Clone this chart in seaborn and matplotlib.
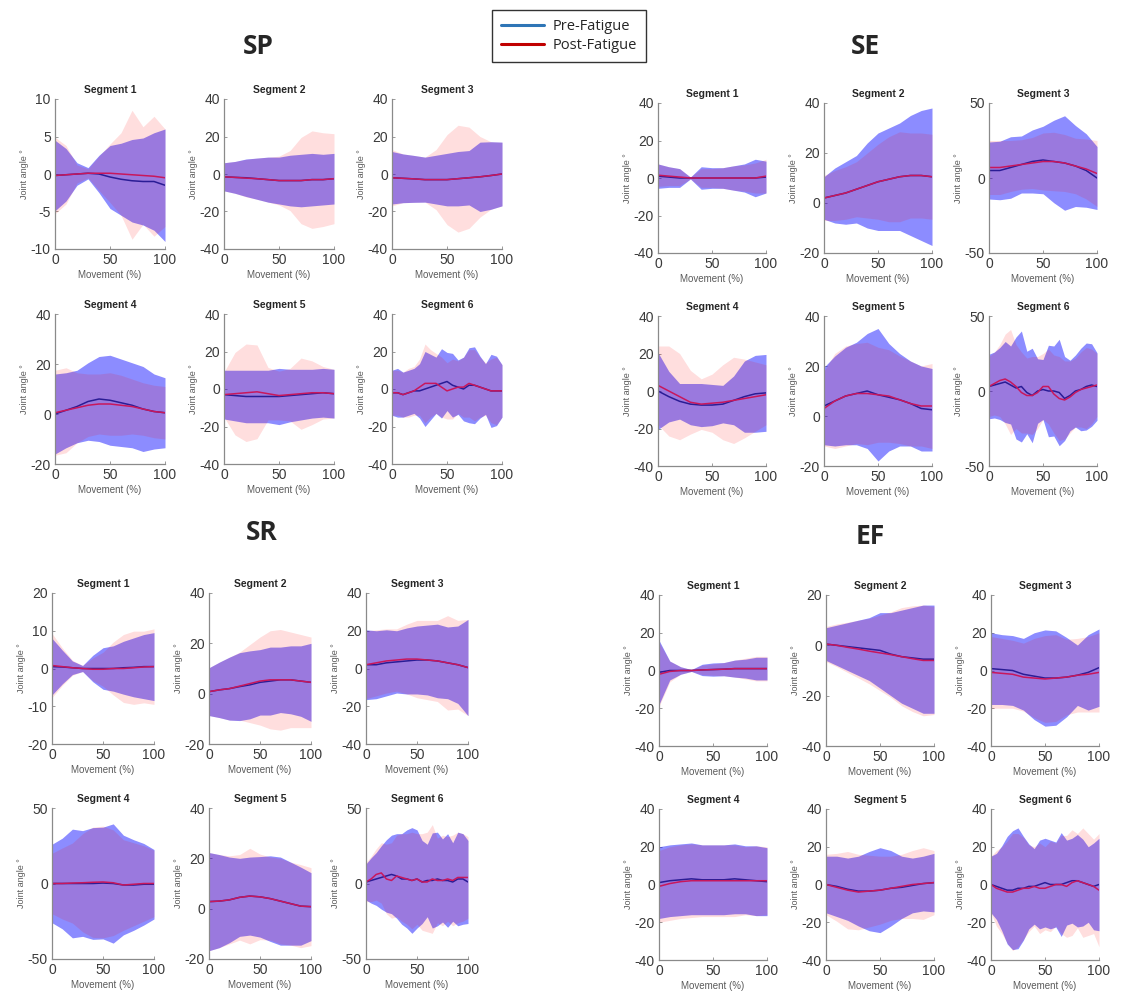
"""Joint angle mean +/- SD curves, pre vs post fatigue, four movements x six segments."""

import matplotlib

matplotlib.use("Agg")

import matplotlib.pyplot as plt
import numpy as np
import pandas as pd
import seaborn as sns
from matplotlib.lines import Line2D

# ---------------------------------------------------------------------------
# Data: mean and SD sampled evenly over 0-100 % of the movement
# ---------------------------------------------------------------------------
# SP
sp1_pre_mean = [-0.2, -0.1, 0, 0.1, 0, -0.4, -0.7, -0.9, -1.0, -1.0, -1.5]
sp1_pre_sd = [4.7, 3.5, 1.5, 0.75, 2.5, 4.2, 4.8, 5.5, 5.8, 6.5, 7.5]
sp1_post_mean = [-0.2, -0.1, 0, 0.1, 0.1, 0.1, 0, -0.1, -0.2, -0.3, -0.5]
sp1_post_sd = [5.1, 3.9, 1.2, 0.6, 2.3, 3.9, 5.5, 8.6, 6.5, 8.0, 6.5]

sp2_pre_mean = [-1.5, -1.8, -2, -2.5, -3, -3.5, -3.5, -3.5, -3, -3, -2.5]
sp2_pre_sd = [7.5, 8.5, 10, 11, 12, 12.5, 13.5, 14, 14, 13.5, 13.5]
sp2_post_mean = [-1.5, -1.8, -2.2, -2.5, -3, -3.5, -3.5, -3.5, -3, -3, -2.5]
sp2_post_sd = [7.5, 8.5, 10, 11, 12, 13, 16, 23, 26, 25, 24]

sp3_pre_mean = [-2, -2.3, -2.6, -3, -3, -3, -2.5, -2, -1.5, -0.8, 0]
sp3_pre_sd = [14, 13, 12.5, 12, 13, 14, 14.5, 14.5, 18.5, 18, 17]
sp3_post_mean = [-2, -2.3, -2.6, -3, -3, -3, -2.5, -2, -1.5, -0.8, 0]
sp3_post_sd = [15, 13, 12.5, 12, 16, 24, 28.5, 27, 21.5, 18, 17]

sp4_pre_mean = [0, 1.5, 3, 5, 6, 5.5, 4.5, 3.5, 2, 1, 0.5]
sp4_pre_sd = [16, 15, 14.5, 15.5, 17, 18, 17.5, 17, 17, 15, 14]
sp4_post_mean = [0.5, 1.5, 2.5, 3.5, 4, 4, 3.5, 3, 2, 1, 0.5]
sp4_post_sd = [17, 17, 14, 12.5, 12, 12.5, 12, 11, 10.5, 10.5, 10.5]

sp5_pre_mean = [-3, -3.5, -4, -4, -4, -4, -3.5, -3, -2.5, -2, -2.5]
sp5_pre_sd = [13, 13.5, 14, 14, 14, 15, 14, 13.5, 13, 13, 13]
sp5_post_mean = [-3, -2.5, -2, -1.5, -2.5, -3.5, -3, -2.5, -2, -2, -2.5]
sp5_post_sd = [12, 22, 26, 25, 14, 13, 14, 19, 17, 14, 13]

sp6_pre_mean = [-2, -2, -3, -2, -1, -1, 0, 1, 2, 3, 4, 2, 1, 0, 2, 2, 1, 0, -1, -1, -1]
sp6_pre_sd = [12, 13, 12, 12, 12, 14.5, 20, 17.5, 15, 18.5, 15.5, 17, 14.5, 17, 20, 20.5,
              16.5, 13.5, 19.5, 18.5, 14]
sp6_post_mean = [-2, -2, -3, -2, -1, 1, 3, 3, 3, 1, -1, 0, 1, 1, 3, 2, 1, 0, -1, -1, -1]
sp6_post_sd = [12, 12, 12, 13, 13, 15, 21, 18, 16, 16, 15, 16, 14, 16, 18, 19, 16, 14, 17,
               18, 14]

# SE
se1_pre_mean = [1, 0.5, 0, 0, 0, 0, 0, 0, 0, 0, 0.5]
se1_pre_sd = [6.5, 5.5, 5, 0.5, 6, 5.5, 5.5, 6.5, 7.5, 10, 8.5]
se1_post_mean = [1.5, 1, 0.5, 0, 0, 0, 0, 0, 0, 0, 1]
se1_post_sd = [6, 5, 4.5, 0.5, 5, 5, 5.5, 6.5, 7, 8, 9]

se2_pre_mean = [2, 3, 4, 5.5, 7, 8.5, 9.5, 10.5, 11, 11, 10.5]
se2_pre_sd = [8.5, 11, 12.5, 13.5, 17, 19.5, 20.5, 21.5, 24, 26, 27.5]
se2_post_mean = [2, 3, 4, 5.5, 7, 8.5, 9.5, 10.5, 11, 11, 10.5]
se2_post_sd = [9, 10, 10.5, 11, 13, 15, 17, 18, 17, 17, 17]

se3_pre_mean = [5, 5, 7, 9, 11, 12, 11, 10, 8, 5, 0]
se3_pre_sd = [19, 19.5, 20.5, 19, 21, 22.5, 27.5, 31.5, 27, 24.5, 21]
se3_post_mean = [7, 7, 8, 9, 10, 11, 11, 10, 8, 6, 3]
se3_post_sd = [18, 18, 17, 16.5, 17, 19, 19.5, 19, 18.5, 20, 22]

se4_pre_mean = [0, -3, -5.5, -7, -7.5, -7.5, -7, -5, -3, -1.5, -1]
se4_pre_sd = [20.5, 13.5, 9.5, 11, 11.5, 11, 10, 13, 19, 20.5, 20.5]
se4_post_mean = [3, 0, -3, -6, -7, -6.5, -6, -5, -4, -3, -2]
se4_post_sd = [21, 24, 23, 17, 13.5, 15.5, 20, 23, 21, 18.5, 16]

se5_pre_mean = [4, 6, 8, 9, 10, 8.5, 7.5, 6.5, 5, 3, 2.5]
se5_pre_sd = [15.5, 18, 19.5, 20.5, 23, 26.5, 21.5, 18.5, 17, 17, 16.5]
se5_post_mean = [3, 6, 8, 9, 9, 8.5, 8, 6.5, 5, 4, 4]
se5_post_sd = [15, 19, 20, 20, 20.5, 19, 18.5, 17.5, 17, 16, 17]

se6_pre_mean = [3, 4, 5, 6, 4, 2, 3, -1, -3, 0, 1, 0, 0, -1, -5, -3, 0, 1, 3, 4, 3]
se6_pre_sd = [21.5, 22, 24, 27, 26, 34, 37, 27.5, 31.5, 21.5, 20, 30.5, 30, 35.5, 28,
              23.5, 24, 27.5, 29, 27.5, 22.5]
se6_post_mean = [3, 5, 7, 8, 6, 3, -1, -3, -3, -1, 3, 3, -2, -5, -6, -4, -1, 1, 2, 3, 4]
se6_post_sd = [20, 21, 24, 30, 35, 28, 27, 25, 26, 24, 22, 25, 26, 28, 26, 24, 23, 25, 27,
               25, 21]

# SR
sr1_pre_mean = [0.5, 0.4, 0.2, 0, 0, 0, 0, 0.2, 0.3, 0.5, 0.5]
sr1_pre_sd = [7.5, 4.5, 1.8, 0.8, 3.5, 5.5, 6, 7, 7.8, 8.5, 9]
sr1_post_mean = [0.8, 0.5, 0.2, 0, -0.2, -0.2, 0, 0, 0.2, 0.4, 0.5]
sr1_post_sd = [8.5, 5, 2, 0.8, 3, 4.5, 7, 9, 9.7, 9.5, 10]

sr2_pre_mean = [0.8, 1.5, 2, 2.8, 3.5, 4.5, 5, 5.5, 5.5, 5, 4.5]
sr2_pre_sd = [9.5, 11, 12.5, 13.5, 13.5, 13, 13.5, 13, 13.5, 14, 15.5]
sr2_post_mean = [0.8, 1.5, 2, 3, 4, 5, 5.5, 5.5, 5.5, 5, 4.5]
sr2_post_sd = [9.5, 11, 12.5, 13.5, 15.5, 17.5, 19.5, 20, 19, 18.5, 18]

sr3_pre_mean = [2, 2, 3, 3.5, 4, 4.5, 4.5, 4, 3, 2, 0.5]
sr3_pre_sd = [18.5, 18, 17.5, 16.5, 17.5, 18, 18.5, 19.5, 19, 20.5, 25.5]
sr3_post_mean = [2, 3, 4, 4.5, 5, 5, 4.5, 4, 3, 2, 0.5]
sr3_post_sd = [18, 17.5, 17, 16.5, 18.5, 20.5, 21, 21.5, 25, 23.5, 25.5]

sr4_pre_mean = [0, 0, 0, 0, 0, 0.3, 0, -1, -1, -0.5, -0.5]
sr4_pre_sd = [26, 30, 36, 35, 37, 37, 39.5, 33, 30, 27, 23]
sr4_post_mean = [0, 0, 0.3, 0.5, 0.8, 1, 0.5, -1, -0.5, 0, 0]
sr4_post_sd = [20, 23.5, 26.5, 32.5, 36.5, 37, 35, 30, 27.5, 25, 22]

sr5_pre_mean = [2.8, 3, 3.5, 4.5, 5, 4.7, 4, 3, 2, 1, 0.8]
sr5_pre_sd = [19.5, 18.5, 17, 15.5, 15.5, 16, 17, 17.5, 16.5, 15.5, 13.5]
sr5_post_mean = [2.8, 3, 3.5, 4.5, 5, 4.7, 4, 3, 2, 1, 0.8]
sr5_post_sd = [19.5, 18.5, 17.5, 17, 19, 17, 16.5, 17, 16.5, 16.5, 15.5]

sr6_pre_mean = [1, 2, 3, 4, 5, 6, 5, 3, 3, 2, 3, 1, 2, 2, 3, 2, 2, 1, 3, 3, 1]
sr6_pre_sd = [12, 15, 17.5, 21, 24, 26, 28, 30, 32.5, 35, 32.5, 27.5, 24, 31.5, 31, 27.5,
              31, 26, 31, 30, 27.5]
sr6_post_mean = [1, 3, 6, 7, 3, 2, 5, 4, 3, 2, 3, 1, 1, 3, 2, 2, 3, 2, 4, 4, 4]
sr6_post_sd = [13, 15, 17, 20, 23, 25, 27, 29, 30, 32, 30, 32, 33, 36, 28, 30, 28, 30, 30,
               29, 27]

# EF
ef1_pre_mean = [-1, 0, 0, 0, 0.3, 0.5, 0.7, 1, 1, 1, 1]
ef1_pre_sd = [17, 5, 2, 0.5, 3, 3.5, 3.5, 4.5, 5, 6, 6]
ef1_post_mean = [-2, -0.5, 0, 0, 0.3, 0.5, 0.7, 1, 1, 1, 1]
ef1_post_sd = [17, 5.5, 2, 0.5, 2.5, 3, 3.5, 4.5, 5.5, 6.5, 6.5]

ef2_pre_mean = [0.5, 0, -0.5, -1, -1.5, -2, -3.5, -4.5, -5, -5.5, -5.5]
ef2_pre_sd = [6.5, 8, 9.5, 11, 12.5, 15, 16.5, 18.5, 20, 21.5, 21.5]
ef2_post_mean = [0.5, 0, -0.8, -1.5, -2.3, -3, -3.7, -4.5, -5.3, -6, -6]
ef2_post_sd = [7, 8.5, 10, 11.5, 13, 15, 17, 19.5, 21, 22, 21.5]

ef3_pre_mean = [1, 0.5, 0, -2, -3, -4, -4, -3.5, -2.5, -1, 1.5]
ef3_pre_sd = [19, 18.5, 18.5, 19, 23, 25.5, 25, 21, 16, 20, 20.5]
ef3_post_mean = [-1, -1.5, -2, -3.5, -4, -4.5, -4, -3.5, -2.5, -2, -1]
ef3_post_sd = [19, 18.5, 18, 18, 21, 23, 23, 20, 19.5, 20, 21]

ef4_pre_mean = [1, 2, 2.5, 3, 2.5, 2.5, 2.5, 3, 2.5, 2, 1.5]
ef4_pre_sd = [19, 19, 19, 19, 18.5, 18.5, 18.5, 18.5, 18, 18.5, 18]
ef4_post_mean = [-1, 0.5, 1.5, 2, 2, 2, 2, 2, 2, 2, 2]
ef4_post_sd = [19, 19.5, 19.5, 19.5, 19, 19, 19, 19, 18, 18.5, 18]

ef5_pre_mean = [0, -1, -2.5, -3.5, -3.5, -3, -2, -1.5, -0.5, 0.5, 1]
ef5_pre_sd = [15, 16, 16.5, 18.5, 21, 22.5, 20, 16.5, 14.5, 14.5, 15.5]
ef5_post_mean = [0, -1.5, -3, -4, -3.5, -3, -2, -1, 0, 0.5, 1]
ef5_post_sd = [16, 18, 20.5, 20, 19, 18, 17, 17, 18, 19, 17]

ef6_pre_mean = [0, -1, -2, -3, -3, -2, -2, -1, -1, 0, 1, 0, 0, 0, 1, 2, 2, 1, 0, -1, 0]
ef6_pre_sd = [15, 17.5, 22.5, 28.5, 31.5, 32, 27.5, 22.5, 20, 23.5, 23.5, 23.5, 22.5,
              27.5, 22.5, 22.5, 24.5, 23, 20, 23, 24.5]
ef6_post_mean = [0, -2, -3, -4, -4, -3, -2, -2, -1, -2, -2, -1, 0, 0, -1, 1, 2, 1, 0, -1, -3]
ef6_post_sd = [15, 20, 23, 27, 31, 30, 27, 23, 21, 24, 22, 24, 22, 26, 27, 28, 25, 29, 27,
               25, 30]

GROUPS = ["SP", "SE", "SR", "EF"]
SEGMENTS = ["Segment 1", "Segment 2", "Segment 3", "Segment 4", "Segment 5", "Segment 6"]

# y-axis (min, max, step) per panel
SP_YRANGE = [(-10, 10, 5), (-40, 40, 20), (-40, 40, 20), (-20, 40, 20), (-40, 40, 20), (-40, 40, 20)]
SE_YRANGE = [(-40, 40, 20), (-20, 40, 20), (-50, 50, 50), (-40, 40, 20), (-20, 40, 20), (-50, 50, 50)]
SR_YRANGE = [(-20, 20, 10), (-20, 40, 20), (-40, 40, 20), (-50, 50, 50), (-20, 40, 20), (-50, 50, 50)]
EF_YRANGE = [(-40, 40, 20), (-40, 20, 20), (-40, 40, 20), (-40, 40, 20), (-40, 40, 20), (-40, 40, 20)]

PANEL_DATA = {
    "SP": [
        (sp1_pre_mean, sp1_pre_sd, sp1_post_mean, sp1_post_sd),
        (sp2_pre_mean, sp2_pre_sd, sp2_post_mean, sp2_post_sd),
        (sp3_pre_mean, sp3_pre_sd, sp3_post_mean, sp3_post_sd),
        (sp4_pre_mean, sp4_pre_sd, sp4_post_mean, sp4_post_sd),
        (sp5_pre_mean, sp5_pre_sd, sp5_post_mean, sp5_post_sd),
        (sp6_pre_mean, sp6_pre_sd, sp6_post_mean, sp6_post_sd),
    ],
    "SE": [
        (se1_pre_mean, se1_pre_sd, se1_post_mean, se1_post_sd),
        (se2_pre_mean, se2_pre_sd, se2_post_mean, se2_post_sd),
        (se3_pre_mean, se3_pre_sd, se3_post_mean, se3_post_sd),
        (se4_pre_mean, se4_pre_sd, se4_post_mean, se4_post_sd),
        (se5_pre_mean, se5_pre_sd, se5_post_mean, se5_post_sd),
        (se6_pre_mean, se6_pre_sd, se6_post_mean, se6_post_sd),
    ],
    "SR": [
        (sr1_pre_mean, sr1_pre_sd, sr1_post_mean, sr1_post_sd),
        (sr2_pre_mean, sr2_pre_sd, sr2_post_mean, sr2_post_sd),
        (sr3_pre_mean, sr3_pre_sd, sr3_post_mean, sr3_post_sd),
        (sr4_pre_mean, sr4_pre_sd, sr4_post_mean, sr4_post_sd),
        (sr5_pre_mean, sr5_pre_sd, sr5_post_mean, sr5_post_sd),
        (sr6_pre_mean, sr6_pre_sd, sr6_post_mean, sr6_post_sd),
    ],
    "EF": [
        (ef1_pre_mean, ef1_pre_sd, ef1_post_mean, ef1_post_sd),
        (ef2_pre_mean, ef2_pre_sd, ef2_post_mean, ef2_post_sd),
        (ef3_pre_mean, ef3_pre_sd, ef3_post_mean, ef3_post_sd),
        (ef4_pre_mean, ef4_pre_sd, ef4_post_mean, ef4_post_sd),
        (ef5_pre_mean, ef5_pre_sd, ef5_post_mean, ef5_post_sd),
        (ef6_pre_mean, ef6_pre_sd, ef6_post_mean, ef6_post_sd),
    ],
}
Y_RANGES = {"SP": SP_YRANGE, "SE": SE_YRANGE, "SR": SR_YRANGE, "EF": EF_YRANGE}

# ---------------------------------------------------------------------------
# Layout (pixels in a 1122 x 1002 canvas)
# ---------------------------------------------------------------------------
FIG_W, FIG_H = 1122, 1002
LAYOUT = {
    "SP": dict(lefts=(55, 224, 392), width=110, tops=(99, 314), height=150, title=(258, 47)),
    "SE": dict(lefts=(658, 824, 989), width=108, tops=(103, 316), height=150, title=(865, 47)),
    "SR": dict(lefts=(52, 209, 366), width=102, tops=(593, 808), height=151, title=(262, 533)),
    "EF": dict(lefts=(659, 826, 991), width=108, tops=(595, 809), height=151, title=(870, 537)),
}

PRE_FILL, POST_FILL = "#0000ff", "#ff0000"
PRE_LINE, POST_LINE = "#2a1c95", "#c8175c"
AXIS_GREY = "#8a8a8a"
TEXT_GREY = "#5a5a5a"

sns.set_theme(style="ticks")
plt.rcParams["font.family"] = ["Liberation Sans", "DejaVu Sans"]
plt.rcParams["axes.unicode_minus"] = False


def draw_panel(ax, pre_mean, pre_sd, post_mean, post_sd, yrange, title):
    pre_mean, pre_sd = np.asarray(pre_mean, float), np.asarray(pre_sd, float)
    post_mean, post_sd = np.asarray(post_mean, float), np.asarray(post_sd, float)
    x_pre = np.linspace(0, 100, len(pre_mean))
    x_post = np.linspace(0, 100, len(post_mean))

    ax.fill_between(x_pre, pre_mean - pre_sd, pre_mean + pre_sd,
                    color=PRE_FILL, alpha=0.45, linewidth=0)
    ax.fill_between(x_post, post_mean - post_sd, post_mean + post_sd,
                    color=POST_FILL, alpha=0.13, linewidth=0)

    df = pd.concat([
        pd.DataFrame({"movement": x_pre, "angle": pre_mean, "condition": "Pre-Fatigue"}),
        pd.DataFrame({"movement": x_post, "angle": post_mean, "condition": "Post-Fatigue"}),
    ])
    sns.lineplot(data=df, x="movement", y="angle", hue="condition",
                 palette={"Pre-Fatigue": PRE_LINE, "Post-Fatigue": POST_LINE},
                 linewidth=1.1, legend=False, ax=ax)

    lo, hi, step = yrange
    ax.set_xlim(0, 100)
    ax.set_ylim(lo, hi)
    ax.set_xticks([0, 50, 100])
    ax.set_yticks(np.arange(lo, hi + step / 2, step))
    ax.set_xlabel("Movement (%)", fontsize=7, color=TEXT_GREY, labelpad=2)
    ax.set_ylabel("Joint angle °", fontsize=6.5, color=TEXT_GREY, labelpad=1)
    ax.set_title(title, fontsize=7.5, fontweight="bold", pad=4)
    ax.tick_params(direction="in", length=2, width=0.6, color=AXIS_GREY,
                   labelsize=10, labelcolor="#3a3a3a", pad=3)
    sns.despine(ax=ax)
    for side in ("left", "bottom"):
        ax.spines[side].set_color(AXIS_GREY)
        ax.spines[side].set_linewidth(0.9)


fig = plt.figure(figsize=(FIG_W / 100, FIG_H / 100), dpi=100)

for group in GROUPS:
    lay = LAYOUT[group]
    for idx, (segment, series, yrange) in enumerate(
            zip(SEGMENTS, PANEL_DATA[group], Y_RANGES[group])):
        row, col = divmod(idx, 3)
        left = lay["lefts"][col] / FIG_W
        bottom = 1 - (lay["tops"][row] + lay["height"]) / FIG_H
        ax = fig.add_axes([left, bottom, lay["width"] / FIG_W, lay["height"] / FIG_H])
        draw_panel(ax, *series, yrange, segment)
    tx, ty = lay["title"]
    fig.text(tx / FIG_W, 1 - ty / FIG_H, group, ha="center", va="center",
             fontsize=19, fontweight="bold", family=["Open Sans", "DejaVu Sans"])

handles = [Line2D([0], [0], color="#2e75b6", lw=2.2),
           Line2D([0], [0], color="#c00000", lw=2.2)]
leg = fig.legend(handles, ["Pre-Fatigue", "Post-Fatigue"], loc="center",
                 bbox_to_anchor=(569 / FIG_W, 1 - 36 / FIG_H),
                 prop={"family": "Open Sans", "size": 10.5},
                 frameon=True, fancybox=False, edgecolor="black",
                 handlelength=3.0, handletextpad=0.6, labelspacing=0.3,
                 borderpad=0.6, borderaxespad=0)
leg.get_frame().set_linewidth(1.0)

fig.savefig("out.png", dpi=100, facecolor="white")
